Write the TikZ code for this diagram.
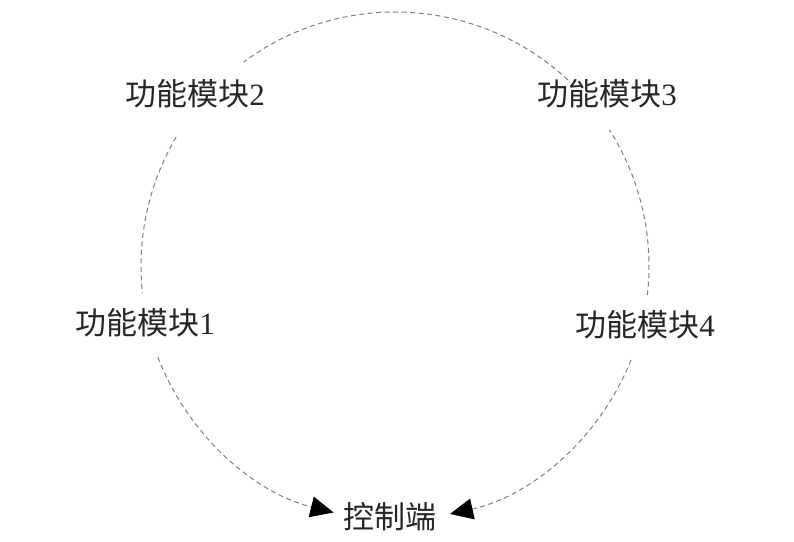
\documentclass[tikz,border=0pt]{standalone}
\usepackage{fontspec}
\setmainfont{Liberation Serif}
\newfontfamily\cjk{Noto Sans CJK SC}
\usetikzlibrary{arrows.meta}

\begin{document}
\begin{tikzpicture}[x=1pt,y=1pt,
    module/.style={font=\fontsize{31}{31}\selectfont, text=black!85, inner sep=0pt},
    ring/.style={gray, line width=1pt, dash pattern=on 5pt off 3.5pt},
    tip/.style={-{Triangle[length=23pt,width=21pt,color=black]}}]
    \useasboundingbox (0,0) rectangle (794,541);

    \coordinate (c) at (395,275);

    \node[module] (m1) at (145,218) {{\cjk 功能模块}1};
    \node[module] (m2) at (195,447) {{\cjk 功能模块}2};
    \node[module] (m3) at (607,447) {{\cjk 功能模块}3};
    \node[module] (m4) at (645,216) {{\cjk 功能模块}4};
    \node[module] (ctrl) at (390,24) {\cjk 控制端};

    % the ring, broken where the labels sit
    \draw[ring]
      ([shift={(c)}]149.5:254pt) arc[start angle=149.5, end angle=186.1, radius=254pt];
    \draw[ring]
      ([shift={(c)}]47.1:254pt) arc[start angle=47.1, end angle=126.6, radius=254pt];
    \draw[ring]
      ([shift={(c)}]-6.6:254pt) arc[start angle=-6.6, end angle=32.4, radius=254pt];

    \draw[ring,tip]
      ([shift={(c)}]201:254pt) arc[start angle=201, end angle=256, radius=254pt];
    \draw[ring,tip]
      ([shift={(c)}]-21.7:254pt) arc[start angle=-21.7, end angle=-77.5, radius=254pt];
\end{tikzpicture}
\end{document}
